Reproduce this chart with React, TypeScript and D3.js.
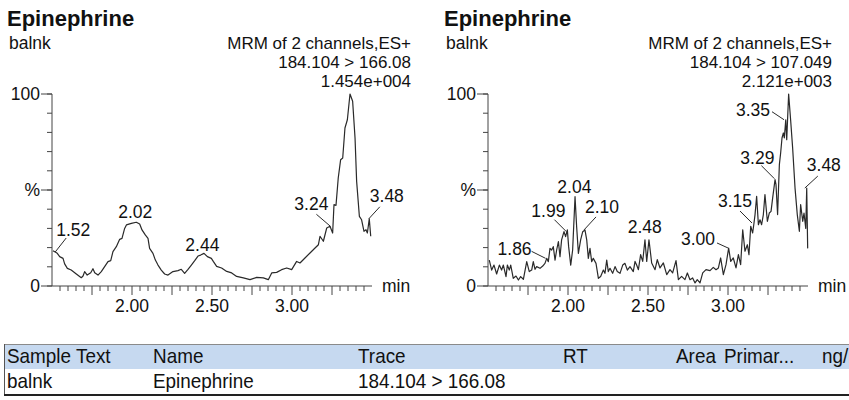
import React from 'react';
import * as d3 from 'd3';

// ---------- DATA ----------
const compoundName = 'Epinephrine';
const sampleName = 'balnk';
const scanInfo = 'MRM of 2 channels,ES+';
const leftTransition = '184.104 > 166.08';
const leftIntensity = '1.454e+004';
const rightTransition = '184.104 > 107.049';
const rightIntensity = '2.121e+003';

const xTickLabels = ['2.00', '2.50', '3.00'];
const yTickLabels: [number, string][] = [[0, '0'], [50, '%'], [100, '100']];

// [retention time (min), relative intensity (%)]
const leftTrace: [number, number][] = [
  [1.506, 18.4], [1.52, 17.7], [1.533, 17.0], [1.548, 15.3], [1.569, 14.4], [1.579, 11.5],
  [1.596, 9.2], [1.62, 8.3], [1.652, 6.25], [1.683, 4.3], [1.694, 5.2], [1.704, 7.5],
  [1.72, 5.7], [1.742, 6.9], [1.756, 9.0], [1.767, 6.9], [1.7875, 5.7], [1.808, 7.5],
  [1.829, 10.1], [1.85, 12.7], [1.867, 13.2], [1.881, 17.9], [1.902, 20.5], [1.923, 24.3],
  [1.9375, 24.8], [1.954, 30], [1.965, 31.8], [1.996, 32.6], [2.027, 33.2], [2.048, 32.3],
  [2.0625, 29.2], [2.083, 26.6], [2.1, 24.8], [2.11, 19.6], [2.131, 17], [2.146, 13.5],
  [2.1625, 10.9], [2.183, 8.3], [2.204, 6.25], [2.225, 5.7], [2.256, 7.5], [2.2875, 8.0],
  [2.308, 8.7], [2.329, 6.6], [2.35, 8.7], [2.371, 10.9], [2.392, 13.2], [2.4125, 15.6],
  [2.429, 16.1], [2.45, 17], [2.471, 15.3], [2.496, 14.4], [2.508, 12.8], [2.529, 10.2],
  [2.56, 9.4], [2.592, 7.6], [2.623, 6.8], [2.654, 5.0], [2.696, 4.2], [2.7375, 3.3],
  [2.779, 4.5], [2.821, 4.2], [2.852, 3.3], [2.873, 6.8], [2.904, 7.1], [2.935, 8.5],
  [2.967, 9.4], [2.998, 8.5], [3.029, 12.8], [3.05, 12], [3.081, 14.6], [3.1125, 17.2],
  [3.144, 19.8], [3.165, 21.5], [3.175, 25.9], [3.196, 23.3], [3.217, 30.2], [3.2375, 31.1],
  [3.254, 27.6], [3.2625, 42.4], [3.275, 42], [3.289, 56.25], [3.304, 65.8], [3.317, 66.7],
  [3.331, 82.3], [3.346, 86.6], [3.3625, 100], [3.379, 96.2], [3.394, 77.1], [3.404, 54.5],
  [3.421, 36.3], [3.435, 34.5], [3.45, 28.5], [3.4625, 29.3], [3.471, 27.6], [3.483, 35],
  [3.492, 25.9],
];

const rightTrace: [number, number][] = [
  [1.508, 13.5], [1.523, 8.3], [1.5375, 10.9], [1.554, 6.25], [1.571, 10.9], [1.585, 8.3],
  [1.596, 10.9], [1.6125, 4.9], [1.621, 10.9], [1.633, 8.3], [1.642, 10.9], [1.658, 4.0],
  [1.675, 5.2], [1.69, 3.1], [1.704, 4.9], [1.721, 3.5], [1.742, 12.7], [1.758, 7.5],
  [1.773, 8.3], [1.783, 12.7], [1.794, 8.7], [1.804, 10.1], [1.825, 9.2], [1.842, 10.4],
  [1.856, 11.8], [1.867, 14.4], [1.877, 12.7], [1.8875, 19.6], [1.898, 18.75], [1.908, 20.5],
  [1.919, 13.5], [1.929, 18.75], [1.94, 23.1], [1.95, 15.3], [1.96, 24], [1.975, 28.3],
  [1.985, 25.7], [1.996, 29.2], [2.004, 20.5], [2.017, 10.9], [2.029, 18.75], [2.044, 46.5],
  [2.054, 30.9], [2.065, 17], [2.079, 24], [2.092, 28.3], [2.106, 29.2], [2.117, 24],
  [2.127, 14.4], [2.1375, 19.6], [2.148, 12.7], [2.158, 14.4], [2.175, 11.8], [2.19, 4.0],
  [2.204, 4.9], [2.221, 8.3], [2.231, 6.6], [2.242, 13.5], [2.252, 7.5], [2.2625, 9.2],
  [2.279, 6.6], [2.294, 10.1], [2.308, 7.5], [2.325, 6.6], [2.342, 10.9], [2.356, 11.8],
  [2.371, 8.3], [2.3875, 10.1], [2.408, 7.5], [2.419, 12.8], [2.429, 10.9], [2.44, 8.5],
  [2.454, 16.3], [2.467, 12.8], [2.481, 24.1], [2.492, 12.8], [2.506, 24.1], [2.523, 12],
  [2.544, 8.5], [2.558, 13.7], [2.575, 9.4], [2.596, 12], [2.617, 5.9], [2.6375, 8.5],
  [2.654, 6.8], [2.675, 13.2], [2.69, 3.3], [2.71, 5.0], [2.731, 3.3], [2.746, 6.8],
  [2.7625, 3.3], [2.779, 4.2], [2.794, 1.6], [2.808, 3.3], [2.825, 1.6], [2.842, 6.8],
  [2.8625, 8.5], [2.8875, 8.0], [2.908, 9.7], [2.925, 8.5], [2.94, 9.4], [2.954, 14.6],
  [2.971, 5.9], [2.9875, 11.1], [3.004, 19.8], [3.017, 12.8], [3.033, 14.6], [3.05, 9.4],
  [3.065, 16.3], [3.079, 11.1], [3.092, 29.3], [3.106, 18.1], [3.121, 21.5], [3.131, 16.3],
  [3.142, 31.1], [3.154, 27.6], [3.1625, 32.8], [3.169, 37.2], [3.179, 46.7], [3.19, 31.9],
  [3.2, 34.5], [3.21, 31.9], [3.221, 37.2], [3.231, 47.6], [3.246, 33.7], [3.258, 38],
  [3.269, 38.9], [3.279, 45.8], [3.294, 55.4], [3.3, 52.8], [3.31, 37.2], [3.321, 63.2],
  [3.329, 69.3], [3.3375, 77.1], [3.346, 79.7], [3.352, 77.1], [3.361, 86.6], [3.367, 76.2],
  [3.379, 100], [3.392, 85.8], [3.404, 71.9], [3.419, 51], [3.433, 37.2], [3.446, 28.5],
  [3.454, 42.4], [3.467, 33.7], [3.475, 38], [3.486, 30], [3.492, 51], [3.498, 19.6],
];

// labelled peaks: [retention time, intensity %]
const leftPeaks: [number, number][] = [
  [1.52, 17.7], [2.02, 33.5], [2.44, 17.2], [3.24, 31.1], [3.48, 35],
];
const rightPeaks: [number, number][] = [
  [1.86, 14.4], [1.99, 28.3], [2.04, 46.5], [2.10, 29.2], [2.48, 24.1],
  [3.00, 19.8], [3.15, 32.8], [3.29, 55.9], [3.35, 86.6], [3.48, 51],
];

const tableHeaders = ['Sample Text', 'Name', 'Trace', 'RT', 'Area', 'Primar...', 'ng/mL'];
const tableRow = ['balnk', 'Epinephrine', '184.104 > 166.08', '', '', '', ''];

// ---------- LAYOUT / STYLE ----------
const FONT = '"Liberation Sans", Arial, Helvetica, sans-serif';
const TEXT = '#111';
const AXIS = '#444';
const LINE = '#2a2a2a';
const FS = 17.5;
const HFS = 17;

type LabelStyle = { dx: number; dy: number; anchor: 'start' | 'middle' | 'end'; tdx: number; tdy: number };
const leftLabelStyle: LabelStyle[] = [
  { dx: 11, dy: -14, anchor: 'start', tdx: 1, tdy: -16 },
  { dx: 0, dy: 0, anchor: 'middle', tdx: 0, tdy: -4 },
  { dx: 0, dy: 0, anchor: 'middle', tdx: 0, tdy: -2 },
  { dx: -14, dy: -12, anchor: 'end', tdx: -2, tdy: -16 },
  { dx: 11, dy: -12, anchor: 'start', tdx: 1, tdy: -17 },
];
const rightLabelStyle: LabelStyle[] = [
  { dx: -14, dy: -7, anchor: 'end', tdx: -14, tdy: -3 },
  { dx: -12, dy: -12, anchor: 'end', tdx: -1, tdy: -15 },
  { dx: 0, dy: 0, anchor: 'middle', tdx: 0, tdy: -4 },
  { dx: 12, dy: -13, anchor: 'start', tdx: 1, tdy: -17 },
  { dx: 0, dy: 0, anchor: 'middle', tdx: 0, tdy: -7 },
  { dx: -11, dy: -5, anchor: 'end', tdx: -13, tdy: -3 },
  { dx: -12, dy: -12, anchor: 'end', tdx: 0, tdy: -16 },
  { dx: -13, dy: -13, anchor: 'end', tdx: 0, tdy: -15 },
  { dx: -12, dy: -8, anchor: 'end', tdx: -14, tdy: -4 },
  { dx: 13, dy: -12, anchor: 'start', tdx: 2, tdy: -17 },
];

const Y_TOP = 94;
const Y_BOTTOM = 286;
const PLOT_W = 320;

type PanelProps = {
  axisX: number;
  titleX: number;
  headerRight: number;
  transition: string;
  intensity: string;
  trace: [number, number][];
  peaks: [number, number][];
  labelStyle: LabelStyle[];
};

function Panel({ axisX, titleX, headerRight, transition, intensity, trace, peaks, labelStyle }: PanelProps) {
  const x = d3.scaleLinear().domain([1.5, 3.5]).range([axisX, axisX + PLOT_W]);
  const y = d3.scaleLinear().domain([0, 100]).range([Y_BOTTOM, Y_TOP]);
  const line = d3
    .line<[number, number]>()
    .x((d) => x(d[0]))
    .y((d) => y(d[1]));

  const minorTicks = d3.range(1.55, 3.4501, 0.05).map((v) => Math.round(v * 100) / 100);
  const isMajor = (v: number) => Math.abs(v * 4 - Math.round(v * 4)) < 1e-6;
  const yMinor = d3.range(0, 101, 10);

  return (
    <g fontFamily={FONT} fill={TEXT}>
      <text x={titleX} y={26} fontSize={22} fontWeight="bold">{compoundName}</text>
      <text x={titleX + 2} y={49} fontSize={FS}>{sampleName}</text>
      <text x={headerRight} y={49} fontSize={HFS} textAnchor="end">{scanInfo}</text>
      <text x={headerRight} y={68} fontSize={HFS} textAnchor="end">{transition}</text>
      <text x={headerRight} y={87} fontSize={HFS} textAnchor="end">{intensity}</text>

      {/* y axis */}
      <line x1={axisX} x2={axisX} y1={Y_TOP} y2={Y_BOTTOM} stroke={AXIS} strokeWidth={1} />
      {yMinor.map((v) => (
        <line key={'ym' + v} x1={axisX - 5} x2={axisX} y1={y(v)} y2={y(v)} stroke={AXIS} />
      ))}
      {yTickLabels.map(([v, lab]) => (
        <g key={'yl' + v}>
          <line x1={axisX - 11} x2={axisX} y1={y(v)} y2={y(v)} stroke={AXIS} />
          <text x={axisX - 12} y={y(v)} dy="0.35em" fontSize={FS} textAnchor="end">{lab}</text>
        </g>
      ))}

      {/* x axis */}
      <line x1={axisX} x2={axisX + PLOT_W} y1={Y_BOTTOM} y2={Y_BOTTOM} stroke={AXIS} />
      {minorTicks.map((v) => (
        <line
          key={'xm' + v}
          x1={x(v)}
          x2={x(v)}
          y1={Y_BOTTOM}
          y2={Y_BOTTOM + (isMajor(v) ? 9 : 5)}
          stroke={AXIS}
        />
      ))}
      {xTickLabels.map((lab) => (
        <text key={'xl' + lab} x={x(+lab)} y={312} fontSize={FS} textAnchor="middle">{lab}</text>
      ))}
      <text x={axisX + PLOT_W + 10} y={Y_BOTTOM} dy="0.35em" fontSize={FS}>min</text>

      {/* trace */}
      <path d={line(trace) || ''} fill="none" stroke={LINE} strokeWidth={1.2} strokeLinejoin="round" />

      {/* peak labels */}
      {peaks.map(([rt, pct], i) => {
        const s = labelStyle[i];
        const px = x(rt);
        const py = y(pct);
        return (
          <g key={'pk' + rt}>
            {(s.dx !== 0 || s.dy !== 0) && (
              <line x1={px} y1={py} x2={px + s.dx} y2={py + s.dy} stroke={LINE} strokeWidth={1} />
            )}
            <text x={px + s.tdx} y={py + s.tdy} fontSize={FS} textAnchor={s.anchor}>
              {rt.toFixed(2)}
            </text>
          </g>
        );
      })}
    </g>
  );
}

function Table() {
  const colX = d3.scaleOrdinal<string, number>().domain(tableHeaders).range([7, 153, 358, 563, 676, 724, 822]);
  const top = 344;
  const rowH = 25;
  const cell = (key: string, tx: number, ty: number, label: string) => (
    <text key={key} transform={`translate(${tx},${ty}) scale(0.9,1)`} fontSize={21}>{label}</text>
  );
  return (
    <g fontFamily={FONT} fill={TEXT}>
      <rect x={4} y={top} width={845} height={rowH} fill="#c6d9f0" />
      <rect x={4} y={top + rowH} width={845} height={rowH} fill="#ffffff" />
      <line x1={4} x2={849} y1={top + 0.5} y2={top + 0.5} stroke="#8a8a8a" />
      <line x1={4.5} x2={4.5} y1={top} y2={top + 2 * rowH + 1} stroke="#555" />
      <line x1={4} x2={849} y1={top + 2 * rowH + 1} y2={top + 2 * rowH + 1} stroke="#222" strokeWidth={2} />
      {tableHeaders.map((h) => cell('h' + h, colX(h), top + 19, h))}
      {tableRow.map((c, i) => (c ? cell('r' + i, colX(tableHeaders[i]), top + rowH + 19, c) : null))}
    </g>
  );
}

export default function App() {
  return (
    <svg
      width={849}
      height={400}
      viewBox="0 0 849 400"
      style={{ position: 'absolute', left: 0, top: 0, background: '#fff' }}
    >
      <rect width={849} height={400} fill="#fff" />
      <Panel
        axisX={52}
        titleX={7}
        headerRight={411}
        transition={leftTransition}
        intensity={leftIntensity}
        trace={leftTrace}
        peaks={leftPeaks}
        labelStyle={leftLabelStyle}
      />
      <Panel
        axisX={488}
        titleX={444}
        headerRight={832}
        transition={rightTransition}
        intensity={rightIntensity}
        trace={rightTrace}
        peaks={rightPeaks}
        labelStyle={rightLabelStyle}
      />
      <Table />
    </svg>
  );
}
